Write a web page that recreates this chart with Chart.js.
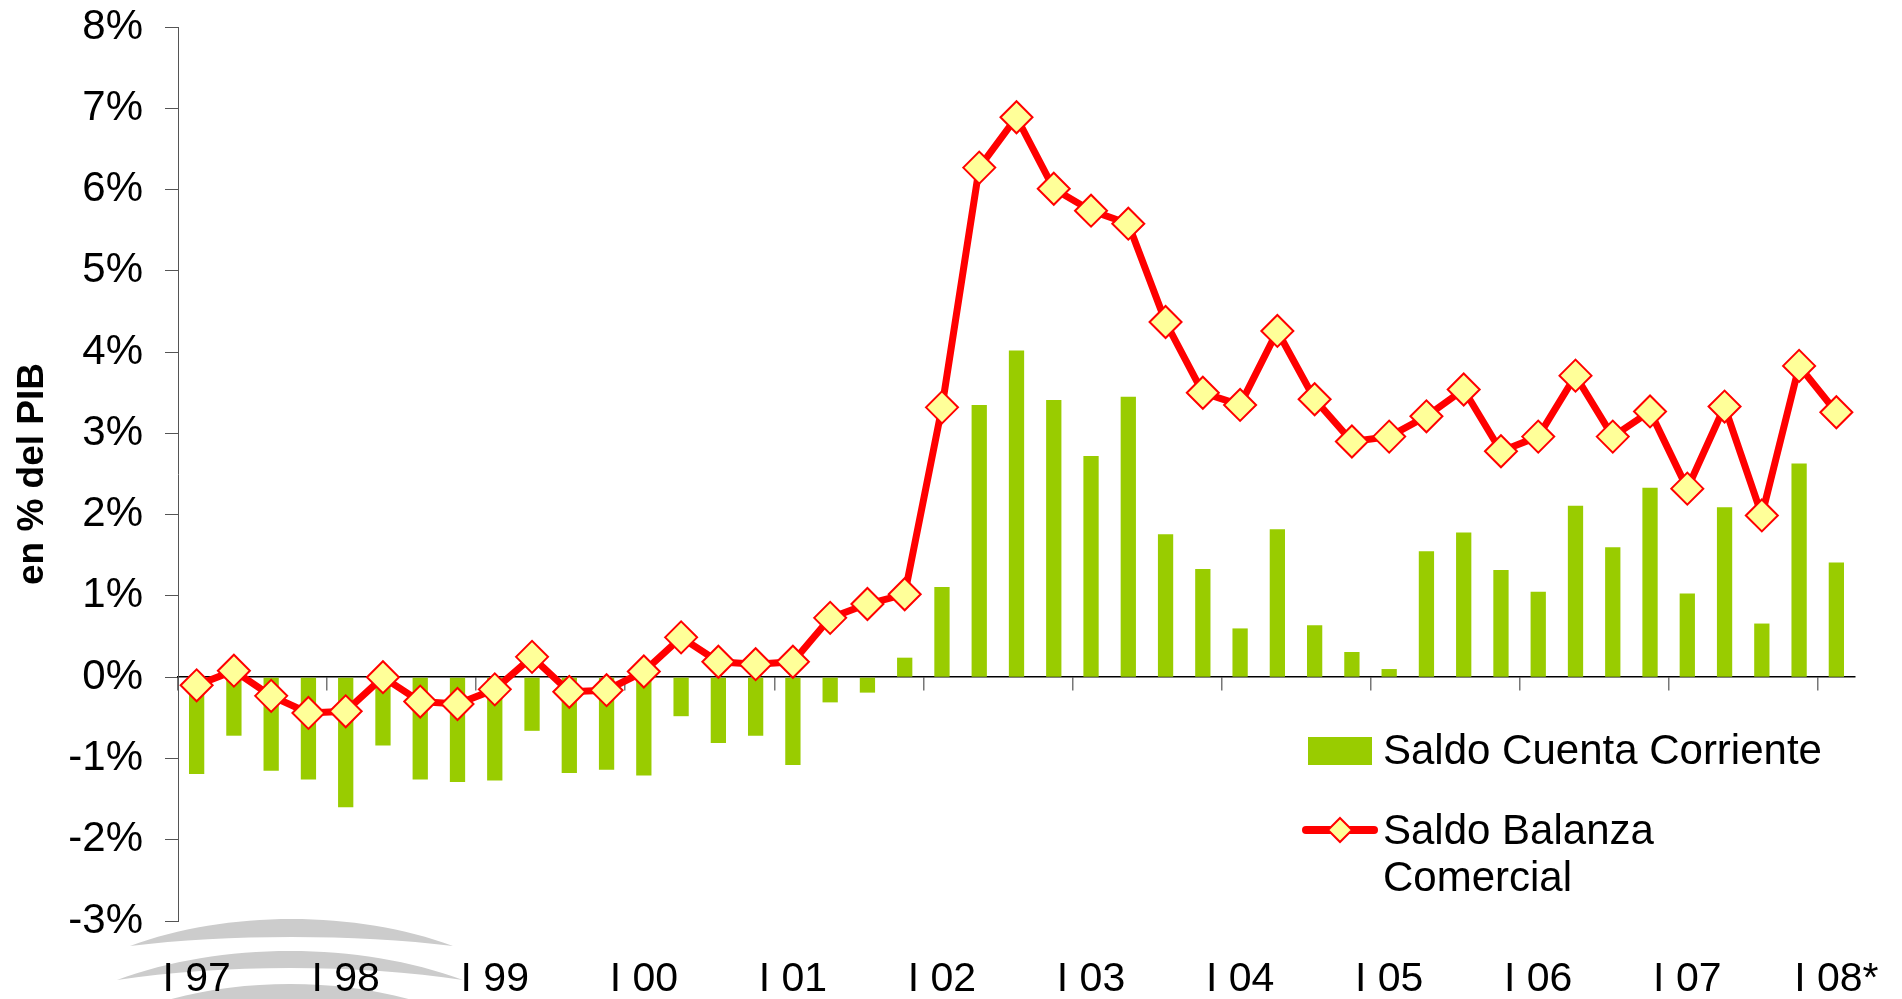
<!DOCTYPE html>
<html lang="es">
<head>
    <meta charset="UTF-8">
    <script src="https://cdn.jsdelivr.net/npm/chart.js"></script>
    <title>Saldo Cuenta Corriente y Balanza Comercial</title>
    <style>
        body { margin: 0; background: #fff; }
        canvas { display: block; }
    </style>
</head>
<body>
    <canvas id="myChart" width="1902" height="999"></canvas>
    <script>

        var quarters = [
            'I 97', 'II 97', 'III 97', 'IV 97',
            'I 98', 'II 98', 'III 98', 'IV 98',
            'I 99', 'II 99', 'III 99', 'IV 99',
            'I 00', 'II 00', 'III 00', 'IV 00',
            'I 01', 'II 01', 'III 01', 'IV 01',
            'I 02', 'II 02', 'III 02', 'IV 02',
            'I 03', 'II 03', 'III 03', 'IV 03',
            'I 04', 'II 04', 'III 04', 'IV 04',
            'I 05', 'II 05', 'III 05', 'IV 05',
            'I 06', 'II 06', 'III 06', 'IV 06',
            'I 07', 'II 07', 'III 07', 'IV 07',
            'I 08*'
        ];

        // Saldo Cuenta Corriente (% del PIB)
        var cuentaCorriente = [
            -1.19, -0.72, -1.15, -1.26,
            -1.60, -0.84, -1.26, -1.29,
            -1.27, -0.66, -1.18, -1.14,
            -1.21, -0.48, -0.81, -0.72,
            -1.08, -0.31, -0.19, 0.24,
            1.11, 3.35, 4.02, 3.41,
            2.72, 3.45, 1.76, 1.33,
            0.60, 1.82, 0.64, 0.31,
            0.10, 1.55, 1.78, 1.32,
            1.05, 2.11, 1.60, 2.33,
            1.03, 2.09, 0.66, 2.63,
            1.41
        ];

        // Saldo Balanza Comercial (% del PIB)
        var balanzaComercial = [
            -0.10, 0.08, -0.23, -0.44,
            -0.42, 0.00, -0.30, -0.33,
            -0.15, 0.25, -0.18, -0.16,
            0.07, 0.49, 0.19, 0.16,
            0.19, 0.73, 0.90, 1.02,
            3.32, 6.27, 6.89, 6.01,
            5.74, 5.58, 4.37, 3.50,
            3.35, 4.26, 3.42, 2.90,
            2.96, 3.21, 3.54, 2.78,
            2.96, 3.71, 2.96, 3.27,
            2.32, 3.33, 1.99, 3.83,
            3.26
        ];

        var yTicks = [-3, -2, -1, 0, 1, 2, 3, 4, 5, 6, 7, 8];

        var barColor = '#99CC00';
        var lineColor = '#FF0000';
        var markerFill = '#FFFF99';
        var fontName = '"Liberation Sans", Arial, sans-serif';

        // grey watermark arcs under the axis, placed from the chart area corner
        var watermark = {
            id: 'watermark',
            beforeDraw(chart) {
                var ctx = chart.ctx;
                var l = chart.chartArea.left;
                var b = chart.chartArea.bottom;
                var arcs = [
                    [-48, 275, 25, -27, -9],
                    [-61, 285, 59, -29, -12],
                    [-38, 262, 88, -25, -10]
                ];
                ctx.save();
                ctx.fillStyle = '#cccccc';
                arcs.forEach(function (a) {
                    var x0 = l + a[0], x1 = l + a[1], yb = b + a[2];
                    var w = x1 - x0;
                    var top = yb + a[3] / 0.75;
                    var bot = yb + a[4] / 0.75;
                    ctx.beginPath();
                    ctx.moveTo(x0, yb);
                    ctx.bezierCurveTo(x0 + w * 0.3, top, x0 + w * 0.7, top, x1, yb);
                    ctx.bezierCurveTo(x0 + w * 0.7, bot, x0 + w * 0.3, bot, x0, yb);
                    ctx.fill();
                });
                ctx.restore();
            }
        };

        function diamond(ctx, x, y, r) {
            ctx.beginPath();
            ctx.moveTo(x, y - r);
            ctx.lineTo(x + r, y);
            ctx.lineTo(x, y + r);
            ctx.lineTo(x - r, y);
            ctx.closePath();
            ctx.fill();
            ctx.stroke();
        }

        // legend inside the plot, lower right
        var innerLegend = {
            id: 'innerLegend',
            afterDraw(chart) {
                var ctx = chart.ctx;
                var ca = chart.chartArea;
                var x = ca.left + 1130;
                var y = ca.bottom - 170;
                ctx.save();
                ctx.font = '42px ' + fontName;
                ctx.fillStyle = '#000';
                ctx.textBaseline = 'middle';

                ctx.fillStyle = barColor;
                ctx.fillRect(x, y - 14, 64, 28);
                ctx.fillStyle = '#000';
                ctx.fillText(chart.data.datasets[1].label, x + 75, y + 1);

                var y2 = y + 79;
                ctx.strokeStyle = lineColor;
                ctx.lineWidth = 8;
                ctx.lineCap = 'round';
                ctx.beginPath();
                ctx.moveTo(x - 2, y2);
                ctx.lineTo(x + 66, y2);
                ctx.stroke();
                ctx.lineWidth = 2;
                ctx.fillStyle = markerFill;
                diamond(ctx, x + 32, y2, 12);
                ctx.fillStyle = '#000';
                var parts = chart.data.datasets[0].label.split(' ');
                ctx.fillText(parts[0] + ' ' + parts[1], x + 75, y2 + 2);
                ctx.fillText(parts[2], x + 75, y2 + 49);
                ctx.restore();
            }
        };

        function chartIt()
        {
            var ctx = document.getElementById('myChart').getContext('2d');
            var myChart = new Chart(ctx, {
                data: {
                    labels: quarters,
                    datasets: [{
                        type: 'line',
                        label: 'Saldo Balanza Comercial',
                        data: balanzaComercial,
                        borderColor: lineColor,
                        borderWidth: 7,
                        tension: 0,
                        pointStyle: 'rectRot',
                        pointRadius: 16,
                        pointBackgroundColor: markerFill,
                        pointBorderColor: lineColor,
                        pointBorderWidth: 2,
                        order: 0
                    }, {
                        type: 'bar',
                        label: 'Saldo Cuenta Corriente',
                        data: cuentaCorriente,
                        backgroundColor: barColor,
                        categoryPercentage: 1,
                        barPercentage: 0.41,
                        order: 1
                    }]
                },
                options: {
                    responsive: false,
                    animation: false,
                    layout: {
                        padding: { top: 27, right: 47, left: 0, bottom: 0 }
                    },
                    plugins: {
                        legend: { display: false },
                        tooltip: { enabled: false }
                    },
                    scales: {
                        x: {
                            type: 'category',
                            position: 'bottom',
                            offset: true,
                            grid: { display: false, drawTicks: false },
                            border: { display: false },
                            ticks: {
                                autoSkip: false,
                                maxRotation: 0,
                                padding: 34,
                                color: '#000',
                                font: { family: fontName, size: 41 },
                                callback: function (v, i) {
                                    return i % 4 === 0 ? quarters[i] : '';
                                }
                            },
                            afterFit: function (s) {
                                s.height = 78;
                                s.paddingLeft = 0;
                                s.paddingRight = 0;
                            }
                        },
                        x0: {
                            type: 'category',
                            position: { y: 0 },
                            offset: true,
                            grid: {
                                offset: true,
                                drawOnChartArea: false,
                                tickLength: 13,
                                lineWidth: 1.5,
                                color: function (c) {
                                    return c.index % 4 === 0 ? '#777' : 'rgba(0,0,0,0)';
                                }
                            },
                            border: { color: '#000', width: 1.5 },
                            ticks: { display: false },
                            afterFit: function (s) {
                                s.paddingLeft = 0;
                                s.paddingRight = 0;
                            }
                        },
                        y: {
                            min: -3,
                            max: 8,
                            afterBuildTicks: function (s) {
                                s.ticks = yTicks.map(function (v) { return { value: v }; });
                            },
                            grid: {
                                drawOnChartArea: false,
                                tickLength: 13,
                                color: '#555'
                            },
                            border: { color: '#555', width: 1 },
                            ticks: {
                                padding: 22,
                                color: '#000',
                                font: { family: fontName, size: 42 },
                                callback: function (v) { return v + '%'; }
                            },
                            title: {
                                display: true,
                                text: 'en % del PIB',
                                color: '#000',
                                padding: { top: 11, bottom: 0 },
                                font: { family: fontName, size: 37, weight: 'bold' }
                            },
                            afterFit: function (s) {
                                s.width = 178;
                                s.paddingTop = 0;
                                s.paddingBottom = 0;
                            }
                        }
                    }
                },
                plugins: [watermark, innerLegend]
            });
        }

        chartIt();
    </script>

</body>
</html>
